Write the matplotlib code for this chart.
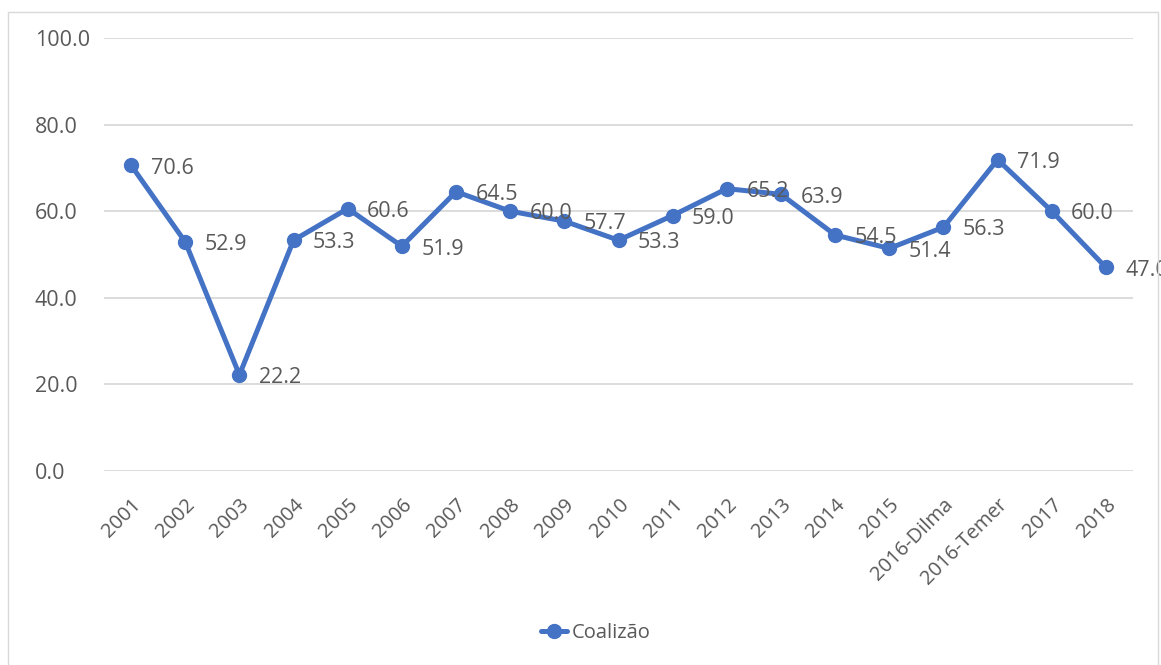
import numpy as np
import matplotlib.pyplot as plt
from matplotlib.patches import Rectangle

# coalition share per year
anos = ["2001", "2002", "2003", "2004", "2005", "2006", "2007", "2008", "2009",
        "2010", "2011", "2012", "2013", "2014", "2015", "2016-Dilma",
        "2016-Temer", "2017", "2018"]
coalizao = [70.6, 52.9, 22.2, 53.3, 60.6, 51.9, 64.5, 60.0, 57.7, 53.3,
            59.0, 65.2, 63.9, 54.5, 51.4, 56.3, 71.9, 60.0, 47.0]
yticks = [0, 20, 40, 60, 80, 100]

azul = "#4472C4"
cinza_txt = "#595959"
cinza_grid = "#D9D9D9"

plt.rcParams['font.family'] = ['Open Sans', 'DejaVu Sans']

fig = plt.figure(figsize=(11.61, 6.65), dpi=100)
ax = fig.add_axes([0.0896, 0.2917, 0.8863, 0.6512])

# thin frame around the whole chart
fig.patches.append(Rectangle((8 / 1161, -0.01), 1150 / 1161, 1 - 12 / 665 + 0.01,
                             transform=fig.transFigure, fill=False,
                             edgecolor=cinza_grid, linewidth=1.0))

x = np.arange(len(anos))
ax.plot(x, coalizao, color=azul, linewidth=3.6, marker='o', markersize=10,
        label="Coalizão", solid_capstyle='round', zorder=3)

for xi, v in zip(x, coalizao):
    ax.annotate(f"{v:.1f}", (xi, v), xytext=(14, -2), textcoords='offset points',
                ha='left', va='center', fontsize=15.5, color=cinza_txt,
                annotation_clip=False, clip_on=False, zorder=4)

ax.set_xlim(-0.5, len(anos) - 0.5)
ax.set_ylim(0, 100)
ax.set_yticks(yticks)
ax.set_yticklabels([f"{t:.1f}" for t in yticks], fontsize=15.5, color=cinza_txt,
                   ha='left')
ax.set_xticks(x)
ax.set_xticklabels(anos, rotation=45, ha='right', va='top', rotation_mode='anchor',
                   fontsize=14.5, color=cinza_txt)
ax.tick_params(axis='both', length=0)
ax.tick_params(axis='y', pad=50)
ax.tick_params(axis='x', pad=17)

ax.grid(axis='y', color=cinza_grid, linewidth=1.3)
ax.set_axisbelow(True)
for s in ax.spines.values():
    s.set_visible(False)

leg = fig.legend(loc='center', bbox_to_anchor=(0.513, 0.048), frameon=False,
                 fontsize=14.5, handlelength=1.3, handletextpad=0.2)
for t in leg.get_texts():
    t.set_color(cinza_txt)

fig.savefig("out.png", dpi=100)
